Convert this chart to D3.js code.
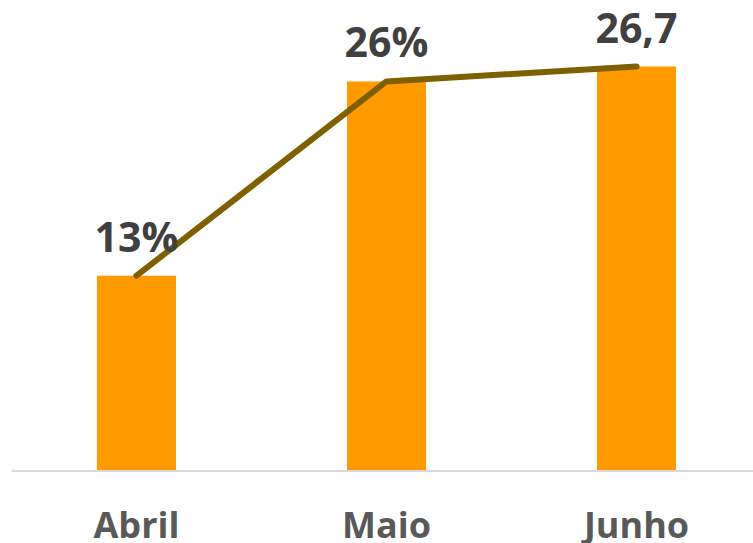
<!DOCTYPE html>
<html>
<head>
<meta charset="utf-8">
<script src="https://cdn.jsdelivr.net/npm/d3@7"></script>
<style>
  body { margin: 0; background: #fff; }
  svg { display: block; }
</style>
</head>
<body>
<svg id="chart"></svg>
<script>
const categories = ['Abril', 'Maio', 'Junho'];
const values = [13, 26, 27];
const valueLabels = ['13%', '26%', '26,7'];

const w = 753, h = 543;
const margin = { left: 11.5, right: -8.5, top: 0, bottom: 73 };
const barColor = '#ff9a00', lineColor = '#7f6000';

const chart = d3.select('#chart')
    .attr('width', w)
    .attr('height', h);

const xScale = d3.scaleBand()
    .domain(categories)
    .range([margin.left, w - margin.right])
    .paddingInner(0.684)
    .paddingOuter(0.342);

const yScale = d3.scaleLinear()
    .domain([0, 31.45])
    .range([h - margin.bottom, margin.top]);

const data = categories.map((c, i) => ({ cat: c, val: values[i], label: valueLabels[i] }));

// baseline
chart.append('line')
    .attr('x1', margin.left)
    .attr('x2', w)
    .attr('y1', yScale(0) + 1)
    .attr('y2', yScale(0) + 1)
    .attr('stroke', '#d9d9d9')
    .attr('stroke-width', 2);

chart.selectAll('.bar')
    .data(data)
    .enter()
    .append('rect')
    .attr('class', 'bar')
    .attr('x', d => xScale(d.cat))
    .attr('y', d => yScale(d.val))
    .attr('width', xScale.bandwidth())
    .attr('height', d => yScale(0) - yScale(d.val))
    .style('fill', barColor);

const line = d3.line()
    .x(d => xScale(d.cat) + xScale.bandwidth() / 2)
    .y(d => yScale(d.val));

chart.append('path')
    .datum(data)
    .attr('d', line)
    .attr('fill', 'none')
    .attr('stroke', lineColor)
    .attr('stroke-width', 6)
    .attr('stroke-linecap', 'round')
    .attr('stroke-linejoin', 'round');

// value labels above the bars
chart.selectAll('.val-label')
    .data(data)
    .enter()
    .append('text')
    .attr('class', 'val-label')
    .attr('x', d => xScale(d.cat) + xScale.bandwidth() / 2)
    .attr('y', d => yScale(d.val) - 24)
    .attr('text-anchor', 'middle')
    .attr('font-family', '"Open Sans", sans-serif')
    .attr('font-weight', 'bold')
    .attr('font-size', '41px')
    .attr('fill', '#404040')
    .text(d => d.label);

// category labels
chart.selectAll('.cat-label')
    .data(categories)
    .enter()
    .append('text')
    .attr('class', 'cat-label')
    .attr('x', d => xScale(d) + xScale.bandwidth() / 2)
    .attr('y', 538)
    .attr('text-anchor', 'middle')
    .attr('font-family', '"Open Sans", sans-serif')
    .attr('font-weight', 'bold')
    .attr('font-size', '36px')
    .attr('fill', '#595959')
    .text(d => d);
</script>
</body>
</html>
